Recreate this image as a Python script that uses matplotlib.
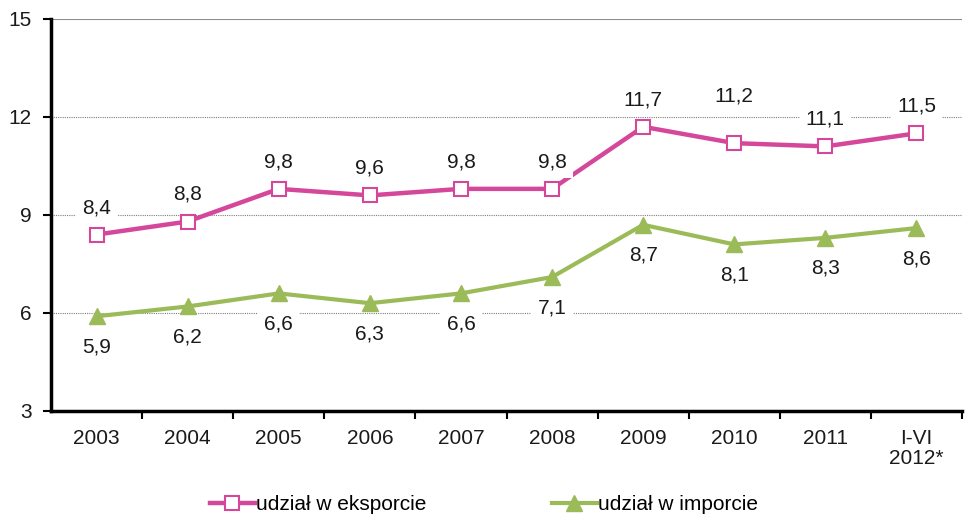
import matplotlib
matplotlib.use("Agg")
import matplotlib.pyplot as plt
from matplotlib.lines import Line2D

categories = ["2003", "2004", "2005", "2006", "2007", "2008", "2009", "2010", "2011", "I-VI\n2012*"]
export_share = [8.4, 8.8, 9.8, 9.6, 9.8, 9.8, 11.7, 11.2, 11.1, 11.5]
import_share = [5.9, 6.2, 6.6, 6.3, 6.6, 7.1, 8.7, 8.1, 8.3, 8.6]
yticks = [3, 6, 9, 12, 15]
series_names = ["udział w eksporcie", "udział w imporcie"]

PINK = "#D4479A"
GREEN = "#9BBB59"
TXT = "#1a1a1a"
FS = 15

plt.rcParams["font.family"] = ["Liberation Sans", "DejaVu Sans"]

fig = plt.figure(figsize=(9.65, 5.17), dpi=100)
ax = fig.add_axes([51 / 965, 1 - 411 / 517, 911 / 965, 392 / 517])

x = list(range(len(categories)))
ax.plot(x, export_share, color=PINK, lw=3.2, marker="s", ms=10, mfc="white",
        mec=PINK, mew=1.5, zorder=5, solid_joinstyle="round")
ax.plot(x, import_share, color=GREEN, lw=3.0, marker="^", ms=12, mfc=GREEN,
        mec=GREEN, zorder=5)

fmt = lambda v: f"{v:.1f}".replace(".", ",")
# the 2010 export label sits higher in the original
label_lift = {"2010": 34}
for xi, cat, v in zip(x, categories, export_share):
    dy = label_lift.get(cat, 19.5)
    ax.annotate(fmt(v), (xi, v), xytext=(0, dy), textcoords="offset points",
                ha="center", va="center", fontsize=FS, color=TXT,
                bbox=dict(boxstyle="square,pad=0.3", fc="white", ec="none"), zorder=6)
for xi, v in zip(x, import_share):
    ax.annotate(fmt(v), (xi, v), xytext=(0, -22), textcoords="offset points",
                ha="center", va="center", fontsize=FS, color=TXT,
                bbox=dict(boxstyle="square,pad=0.3", fc="white", ec="none"), zorder=6)

ax.set_xlim(-0.5, len(categories) - 0.5)
ax.set_ylim(3, 15)
ax.set_yticks(yticks)
ax.set_yticklabels([str(t) for t in yticks], fontsize=FS, color=TXT)
ax.set_xticks(x)
ax.set_xticklabels(categories, fontsize=FS, color=TXT, linespacing=1.05)
ax.set_xticks([i + 0.5 for i in x], minor=True)
ax.tick_params(axis="x", which="major", length=0, pad=13)
ax.tick_params(axis="x", which="minor", length=6, width=1.5, direction="out", color="black")
ax.tick_params(axis="y", length=6, width=1.5, direction="out", pad=8, color="black")

for t in [6, 9, 12]:
    ax.axhline(t, color="#7f7f7f", lw=0.8, ls=(0, (1, 1)), zorder=1)
ax.axhline(15, color="#8c8c8c", lw=1.5, zorder=1)

for s in ["top", "right"]:
    ax.spines[s].set_visible(False)
ax.spines["left"].set_linewidth(2.5)
ax.spines["bottom"].set_linewidth(2.5)

handles = [
    Line2D([], [], color=PINK, lw=3.2, marker="s", ms=10, mfc="white", mec=PINK, mew=1.5),
    Line2D([], [], color=GREEN, lw=3.0, marker="^", ms=12, mfc=GREEN, mec=GREEN),
]
fig.legend(handles, series_names, loc="center left", bbox_to_anchor=(210 / 965, 1 - 505 / 517),
           ncol=2, frameon=False, fontsize=FS, handlelength=2.15, handletextpad=0.08,
           columnspacing=6.0, borderpad=0, borderaxespad=0)

fig.savefig("out.png", dpi=100)
